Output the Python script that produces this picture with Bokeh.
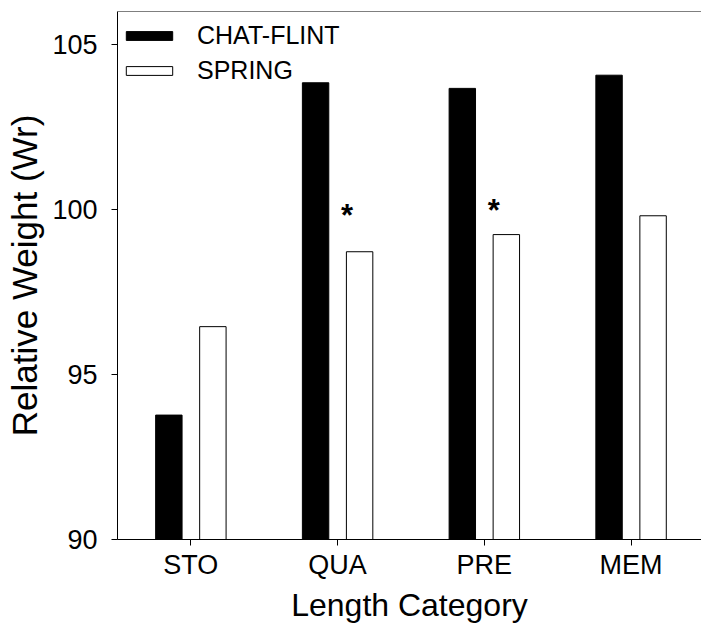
from bokeh.plotting import figure
from bokeh.models import ColumnDataSource, Range1d, FixedTicker, Span, Legend
from bokeh.transform import dodge
from bokeh.core.properties import value
from bokeh.embed import file_html
from bokeh.resources import INLINE

# ---- data ----
categories = ["STO", "QUA", "PRE", "MEM"]
chat_flint = [93.77, 103.84, 103.67, 104.07]
spring = [96.45, 98.72, 99.24, 99.81]
star_categories = ["QUA", "PRE"]
star_y = [99.95, 100.1]
y_ticks = [90, 95, 100, 105]

FONT = "Liberation Sans"

xpos = list(range(len(categories)))
src = ColumnDataSource(dict(x=xpos, cf=chat_flint, sp=spring))
star_src = ColumnDataSource(dict(x=[categories.index(c) for c in star_categories],
                                 y=star_y, t=["*"] * len(star_categories)))

p = figure(width=701, height=625, output_backend="svg", toolbar_location=None,
           x_range=Range1d(-0.5, 3.48), y_range=Range1d(90, 106),
           min_border_left=117, min_border_right=0, min_border_top=11,
           min_border_bottom=86)
p.outline_line_color = None
p.xgrid.visible = False
p.ygrid.visible = False
p.background_fill_color = "white"
p.border_fill_color = "white"

r1 = p.vbar(x=dodge("x", -0.15), top="cf", bottom=90, width=0.18, source=src,
            fill_color="black", line_color="black")
r2 = p.vbar(x=dodge("x", 0.15), top="sp", bottom=90, width=0.18, source=src,
            fill_color="white", line_color="black", line_width=1)

p.text(x=dodge("x", 0.065), y="y", text="t", source=star_src,
       text_font=value(FONT), text_font_size="31px", text_font_style="bold",
       text_align="center", text_baseline="alphabetic", y_offset=4,
       text_color="black")

p.add_layout(Span(location=106, dimension="width", line_color="black", line_width=1))

# axes
p.xaxis.ticker = FixedTicker(ticks=xpos)
p.xaxis.major_label_overrides = {i: c for i, c in enumerate(categories)}
p.yaxis.ticker = FixedTicker(ticks=y_ticks)
for ax in (p.xaxis[0], p.yaxis[0]):
    ax.axis_line_color = "black"
    ax.axis_line_width = 1
    ax.major_tick_line_color = "black"
    ax.major_tick_in = 0
    ax.major_tick_out = 6
    ax.minor_tick_line_color = None
    ax.major_label_text_font = FONT
    ax.major_label_text_font_size = "27px"
    ax.major_label_text_color = "black"
    ax.axis_label_text_font = FONT
    ax.axis_label_text_font_style = "normal"
    ax.axis_label_text_color = "black"
p.xaxis.axis_label = "Length Category"
p.yaxis.axis_label = "Relative Weight (Wr)"
p.xaxis.axis_label_text_font_size = "32px"
p.yaxis.axis_label_text_font_size = "35px"
p.xaxis.major_label_standoff = 4
p.xaxis.axis_label_standoff = 4
p.yaxis.major_label_standoff = 14
p.yaxis.axis_label_standoff = 5

legend = Legend(items=[("CHAT-FLINT", [r1]), ("SPRING", [r2])],
                location=(3, 454))
legend.glyph_width = 58
legend.glyph_height = 11
legend.label_text_font = FONT
legend.label_text_font_size = "25px"
legend.label_text_color = "black"
legend.label_standoff = 19
legend.spacing = 6
legend.margin = 0
legend.padding = 9
legend.border_line_color = None
legend.background_fill_alpha = 0
p.add_layout(legend)

open("out.html", "w").write(file_html(p, INLINE))
